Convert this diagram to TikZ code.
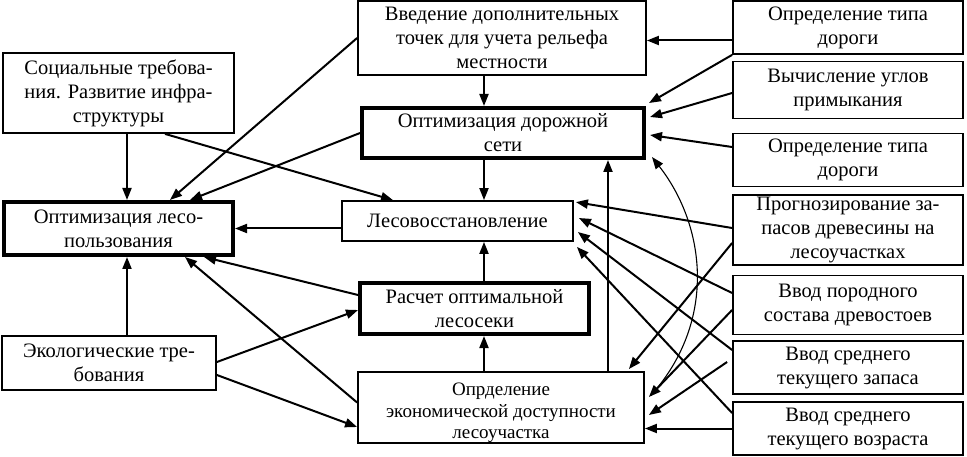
\documentclass[tikz,border=0pt]{standalone}
\usepackage{fontspec}
\setmainfont{Liberation Serif}
\usetikzlibrary{arrows.meta}
\begin{document}
\begin{tikzpicture}[x=1pt,y=-1pt,
  box/.style={draw,line width=1.8pt,rectangle,inner sep=0pt,align=center,
    font=\fontsize{20.5}{24}\selectfont},
  thickbox/.style={box,line width=4pt},
  arr/.style={line width=2pt,-{Triangle[length=12pt,width=9pt]}},
  curv/.style={line width=1.1pt,-{Triangle[length=12pt,width=9pt]}}]
\useasboundingbox (0,0) rectangle (967,457);
% left column
\node[box,minimum width=231pt,minimum height=80pt] (S) at (118.5,93) {Социальные требова-\\ния. Развитие инфра-\\структуры};
\node[thickbox,minimum width=229pt,minimum height=53pt] (OL) at (118.5,228.5) {Оптимизация лесо-\\пользования};
\node[box,minimum width=214pt,minimum height=54pt] (Ek) at (109,363) {Экологические тре-\\бования};
% middle column
\node[box,minimum width=288pt,minimum height=74pt] (V) at (502,38) {Введение дополнительных\\точек для учета рельефа\\местности};
\node[thickbox,minimum width=282pt,minimum height=50pt] (OD) at (503,133) {Оптимизация дорожной\\сети};
\node[box,minimum width=231pt,minimum height=40pt] (L) at (457.5,221) {Лесовосстановление};
\node[thickbox,minimum width=229pt,minimum height=51pt] (R) at (474.5,308.5) {Расчет оптимальной\\лесосеки};
\node[box,minimum width=286pt,minimum height=65pt,font=\fontsize{19}{21.5}\selectfont] (E) at (501,407.5) {\rule{0pt}{24pt}Опрделение\\экономической доступности\\лесоучастка};
% right column
\node[box,minimum width=230pt,minimum height=53pt] (T1) at (848,27.5) {Определение типа\\дороги};
\node[box,minimum width=230pt,minimum height=57pt] (U) at (848,90) {Вычисление углов\\примыкания};
\node[box,minimum width=230pt,minimum height=53pt] (T2) at (848,160) {Определение типа\\дороги};
\node[box,minimum width=230pt,minimum height=70pt] (P) at (848,230) {Прогнозирование за-\\пасов древесины на\\лесоучастках};
\node[box,minimum width=230pt,minimum height=59pt] (Po) at (848,305) {Ввод породного\\состава древостоев};
\node[box,minimum width=230pt,minimum height=53pt] (Z) at (848,367.5) {Ввод среднего\\текущего запаса};
\node[box,minimum width=230pt,minimum height=53pt] (A) at (848,428.5) {Ввод среднего\\текущего возраста};
% helper columns
\coordinate (col) at (484,0);
\coordinate (col2) at (608,0);
% left connectors
\draw[arr] ([xshift=8.5pt]S.south) -- ([xshift=8.5pt]OL.north);
\draw[arr] ([xshift=46.5pt]S.south) -- ([xshift=-64.5pt]L.north);
\draw[arr] (V.west) -- ([xshift=51.5pt]OL.north);
\draw[arr] (OD.west) -- ([xshift=71.5pt]OL.north);
\draw[arr] (L.west |- OL.east) -- (OL.east);
\draw[arr] ([yshift=13.5pt]R.west) -- ([xshift=85.5pt]OL.south);
\draw[arr] ([yshift=5pt]E.west) -- ([xshift=66.5pt]OL.south);
\draw[arr] ([xshift=18pt]Ek.north) coordinate (ekn) -- (OL.south -| ekn);
\draw[arr] ([yshift=1pt]Ek.east) -- ([yshift=-1.5pt]R.west);
\draw[arr] ([yshift=-12pt]Ek.east) -- ([yshift=-19.5pt]E.west);
% central vertical connectors
\draw[arr] (V.south -| col) -- (OD.north -| col);
\draw[arr] (OD.south -| col) -- (L.north -| col);
\draw[arr] (R.north -| col) -- (L.south -| col);
\draw[arr] (E.north -| col) -- (R.south -| col);
\draw[arr] (E.north -| col2) -- (OD.south -| col2);
% right connectors
\draw[arr] ([yshift=-13pt]T1.west) coordinate (t1a) -- (V.east |- t1a);
\draw[arr] (T1.south west) -- ([xshift=3pt,yshift=3pt]OD.north east);
\draw[arr] ([yshift=-3pt]U.west) -- ([xshift=4pt,yshift=16pt]OD.east);
\draw[arr] ([yshift=13pt]T2.west) -- ([xshift=4pt,yshift=-2pt]OD.east);
\draw[arr] ([yshift=2pt]P.west) -- ([xshift=2pt,yshift=-2pt]L.north east);
\draw[arr] ([yshift=12pt]Po.west) -- ([xshift=5pt,yshift=3pt]L.east);
\draw[arr] ([yshift=17.5pt]Z.west) -- ([xshift=4pt,yshift=-11pt]L.east);
\draw[arr] ([yshift=15.5pt]A.west) -- ([xshift=3pt,yshift=-5pt]L.south east);
\draw[arr] ([yshift=-13pt]P.west) -- ([xshift=-16pt,yshift=2pt]E.north east);
\draw[arr] ([yshift=-5pt]Po.west) -- ([xshift=4pt,yshift=10.5pt]E.east);
\draw[arr] ([xshift=-5pt,yshift=5.5pt]Z.west) -- ([xshift=4pt,yshift=-7.5pt]E.east);
\draw[arr] (A.west) -- (E.east |- A.west);
\draw[curv] ([xshift=6pt,yshift=12pt]E.east) .. controls (718,320) and (705,225) .. ([xshift=6pt,yshift=-24pt]OD.east);
\end{tikzpicture}
\end{document}
